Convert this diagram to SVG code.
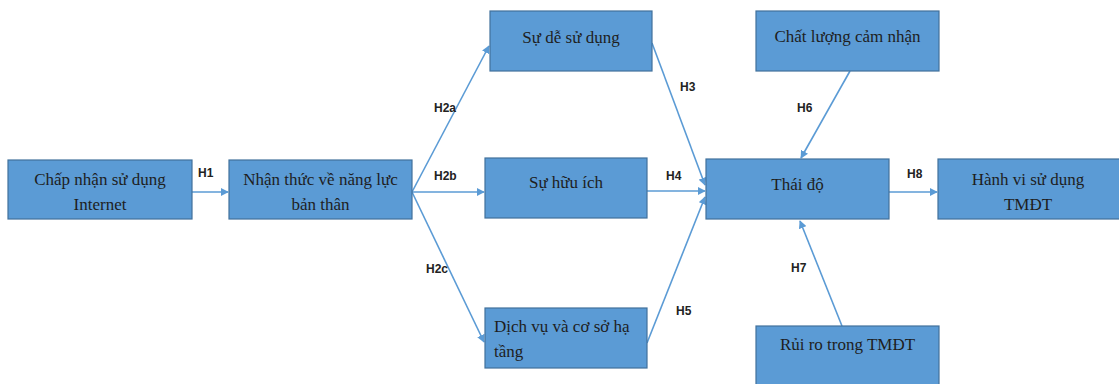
<svg xmlns="http://www.w3.org/2000/svg" width="1119" height="384" viewBox="0 0 1119 384">
  <style>
    .box { fill: #5b9bd5; stroke: #41719c; stroke-width: 1.2; }
    .txt { font-family: "Liberation Serif", "Times New Roman", serif; font-size: 17px; fill: #1e1e1e; }
    .mid { text-anchor: middle; }
    .lbl { font-family: "Liberation Sans", Arial, sans-serif; font-size: 12px; font-weight: bold; fill: #222; }
    .edge { stroke: #5b9bd5; stroke-width: 1.6; fill: none; marker-end: url(#arrow); }
  </style>
  <defs>
    <marker id="arrow" viewBox="0 0 10 10" refX="9" refY="5" markerWidth="5" markerHeight="5" orient="auto" markerUnits="strokeWidth">
      <path d="M0,0 L10,5 L0,10 z" fill="#5b9bd5"/>
    </marker>
  </defs>
  <rect width="1119" height="384" fill="#ffffff"/>

  <g id="edges">
    <line class="edge" x1="192" y1="192" x2="228" y2="192"/>
    <line class="edge" x1="412" y1="192" x2="489" y2="46"/>
    <line class="edge" x1="412" y1="192" x2="484" y2="192"/>
    <line class="edge" x1="412" y1="192" x2="484" y2="342"/>
    <line class="edge" x1="652" y1="43" x2="705" y2="185"/>
    <line class="edge" x1="647" y1="191" x2="705" y2="191"/>
    <line class="edge" x1="647" y1="343" x2="705" y2="197"/>
    <line class="edge" x1="850" y1="71" x2="801" y2="158"/>
    <line class="edge" x1="842" y1="326" x2="800" y2="221"/>
    <line class="edge" x1="889" y1="192" x2="937" y2="192"/>
    <text class="lbl" x="198" y="177">H1</text>
    <text class="lbl" x="434" y="112">H2a</text>
    <text class="lbl" x="434" y="180">H2b</text>
    <text class="lbl" x="426" y="273">H2c</text>
    <text class="lbl" x="680" y="91">H3</text>
    <text class="lbl" x="666" y="180">H4</text>
    <text class="lbl" x="676" y="315">H5</text>
    <text class="lbl" x="797" y="112">H6</text>
    <text class="lbl" x="791" y="272">H7</text>
    <text class="lbl" x="907" y="178">H8</text>
  </g>

  <g id="n-internet">
    <rect class="box" x="8" y="160" width="184" height="59"/>
    <text class="txt mid" x="100" y="185">Chấp nhận sử dụng</text>
    <text class="txt mid" x="100" y="210">Internet</text>
  </g>
  <g id="n-nangluc">
    <rect class="box" x="229" y="160" width="183" height="59"/>
    <text class="txt mid" x="320.5" y="185">Nhận thức về năng lực</text>
    <text class="txt mid" x="320.5" y="210">bản thân</text>
  </g>
  <g id="n-desudung">
    <rect class="box" x="490" y="11" width="162" height="60"/>
    <text class="txt mid" x="571" y="43">Sự dễ sử dụng</text>
  </g>
  <g id="n-huuich">
    <rect class="box" x="485" y="158" width="162" height="60"/>
    <text class="txt mid" x="566" y="188">Sự hữu ích</text>
  </g>
  <g id="n-dichvu">
    <rect class="box" x="485" y="308" width="162" height="60"/>
    <text class="txt" x="494" y="332">Dịch vụ và cơ sở hạ</text>
    <text class="txt" x="494" y="357">tầng</text>
  </g>
  <g id="n-chatluong">
    <rect class="box" x="756" y="11" width="183" height="60"/>
    <text class="txt mid" x="847.5" y="42">Chất lượng cảm nhận</text>
  </g>
  <g id="n-thaido">
    <rect class="box" x="706" y="159" width="183" height="60"/>
    <text class="txt mid" x="797.5" y="190">Thái độ</text>
  </g>
  <g id="n-hanhvi">
    <rect class="box" x="938" y="159" width="190" height="60"/>
    <text class="txt mid" x="1028" y="185">Hành vi sử dụng</text>
    <text class="txt mid" x="1028" y="210">TMĐT</text>
  </g>
  <g id="n-ruiro">
    <rect class="box" x="756" y="326" width="183" height="70"/>
    <text class="txt mid" x="847.5" y="350">Rủi ro trong TMĐT</text>
  </g>
</svg>
